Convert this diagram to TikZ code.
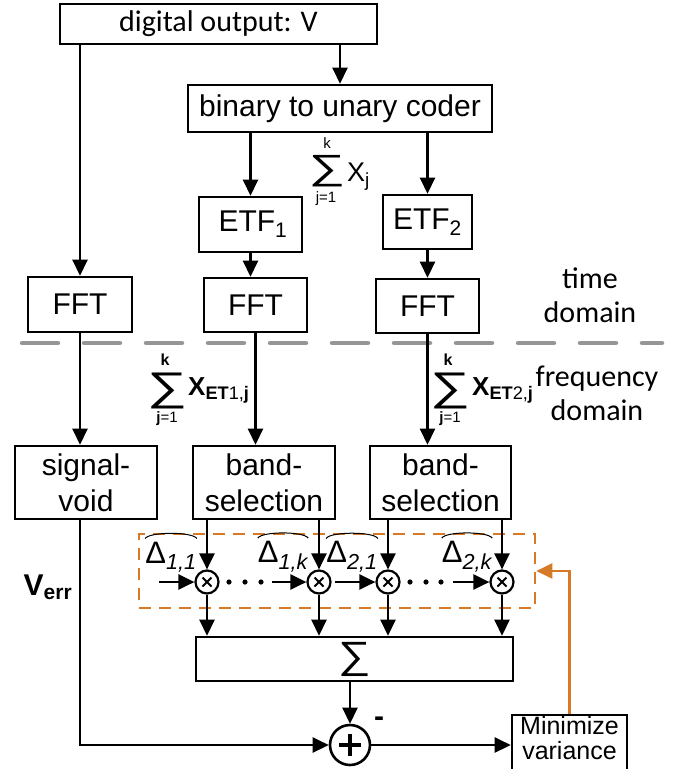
\documentclass[tikz,border=0pt]{standalone}
\usepackage{fontspec}
\usepackage{graphicx}
\setmainfont{Liberation Sans}
\newfontfamily\calfont{Carlito}
\usetikzlibrary{positioning,arrows.meta}
\definecolor{fborange}{RGB}{214, 122, 40}
\definecolor{splitgray}{RGB}{150, 150, 150}
\newcommand{\widesum}[1]{\scalebox{#1}[1]{∑}}

\begin{document}
\begin{tikzpicture}[x=1pt, y=-1pt,
        blk/.style={draw, line width=2.6pt, align=center, inner sep=0pt,
                    font=\fontsize{30}{36}\selectfont},
        arr/.style={-{Triangle[length=16pt,width=15pt]}, line width=2.5pt},
        mult/.style={draw, circle, line width=2.2pt, minimum size=23pt, inner sep=0pt,
                    path picture={\draw[line width=2pt]
                        ([shift={(-4.5pt,-4.5pt)}]path picture bounding box.center) --
                        ([shift={(4.5pt,4.5pt)}]path picture bounding box.center)
                        ([shift={(-4.5pt,4.5pt)}]path picture bounding box.center) --
                        ([shift={(4.5pt,-4.5pt)}]path picture bounding box.center);}},
        coef/.style={inner sep=1pt, font=\fontsize{31}{31}\selectfont},
        sumsym/.style={inner sep=0pt},
        lim/.style={inner sep=0pt, font=\fontsize{15}{15}\selectfont},
        term/.style={anchor=base west, inner sep=0pt},
        note/.style={align=center, font=\calfont\fontsize{30}{34}\selectfont},
        fback/.style={-{Triangle[length=16pt,width=15pt]}, line width=2.2pt, fborange}
    ]
    \useasboundingbox (0,0) rectangle (685,769);

    % Time domain blocks
    \node[blk, minimum width=317pt, minimum height=40pt,
          font=\calfont\fontsize{30}{36}\selectfont] (dout) at (218.5,24) {digital output: V};
    \node[blk, minimum width=304pt, minimum height=47pt] (coder) at (340,108.5) {binary to unary coder};
    \node[blk, minimum width=103pt, minimum height=55pt] (etf1) at (250.5,224.5) {\,ETF\textsubscript{1}};
    \node[blk, minimum width=89pt, minimum height=54pt]  (etf2) at (427.5,222) {ETF\textsubscript{2}};
    \node[blk, minimum width=104pt, minimum height=55pt] (fft0) at (80,304.5) {FFT};
    \node[blk, minimum width=103pt, minimum height=54pt] (fft1) at (255.5,305) {FFT};
    \node[blk, minimum width=103pt, minimum height=54pt] (fft2) at (427.5,306) {FFT};

    % Domain split
    \draw[splitgray, line width=4.5pt, line cap=round, dash pattern=on 36pt off 26pt] (22,343) -- (662,343);
    \node[note] (tdom) at (590,295) {time\\domain};
    \node[note] (fdom) at (597,393) {frequency\\domain};

    % Sum labels
    \node[sumsym, font=\fontsize{35}{35}\selectfont] (sx) at (327,171) {\widesum{1.45}};
    \node[lim] (sxk) at (327,143) {k};
    \node[lim] (sxj) at (326,199) {j=1};
    \node[term, font=\fontsize{27}{27}\selectfont] (xj) at (347,181) {X\textsubscript{j}};

    \node[sumsym, font=\fontsize{40}{40}\selectfont] (s1) at (167,391) {\widesum{1.4}};
    \node[lim, font=\bfseries\fontsize{16}{16}\selectfont] (s1k) at (165,360) {k};
    \node[lim] (s1j) at (167,419) {\textbf{j}=1};
    \node[term, font=\bfseries\fontsize{26}{26}\selectfont] (x1) at (188,395) {X\textsubscript{ET{\mdseries 1,}j}};

    \node[sumsym, font=\fontsize{40}{40}\selectfont] (s2) at (450,391) {\widesum{1.4}};
    \node[lim, font=\bfseries\fontsize{16}{16}\selectfont] (s2k) at (448,360) {k};
    \node[lim] (s2j) at (450,419) {\textbf{j}=1};
    \node[term, font=\bfseries\fontsize{26}{26}\selectfont] (x2) at (472,395) {X\textsubscript{ET{\mdseries 2,}j}};

    % Frequency domain blocks
    \node[blk, minimum width=142pt, minimum height=73pt] (sv)  at (86,482.5)  {signal-\\void};
    \node[blk, minimum width=142pt, minimum height=73pt] (bs1) at (264,482.5) {band-\\selection};
    \node[blk, minimum width=141pt, minimum height=73pt] (bs2) at (440.5,482.5) {band-\\selection};

    % Weighting row
    \node[draw=fborange, line width=2.6pt, dash pattern=on 12pt off 8pt,
          minimum width=396pt, minimum height=74pt] (wbox) at (337,571) {};
    \node[mult] (m11) at (207,582) {};
    \node[mult] (m1k) at (319,582) {};
    \node[mult] (m21) at (388,582) {};
    \node[mult] (m2k) at (502,582) {};
    \node[coef] (d11) at (171,557) {Δ\textsubscript{\itshape 1,1}};
    \node[coef] (d1k) at (283,557) {Δ\textsubscript{\itshape 1,k}};
    \node[coef] (d21) at (352,557) {Δ\textsubscript{\itshape 2,1}};
    \node[coef] (d2k) at (467,557) {Δ\textsubscript{\itshape 2,k}};
    \coordinate (in11) at (159,582);
    \coordinate (in1k) at (272,582);
    \coordinate (in21) at (335,582);
    \coordinate (in2k) at (453,582);

    \node[blk, minimum width=317pt, minimum height=44pt, font=\fontsize{38}{38}\selectfont] (sig) at (354.5,659) {\widesum{1.2}};
    \node[draw, circle, line width=2.6pt, minimum size=40pt, inner sep=0pt,
          path picture={\draw[line width=3.6pt]
              ([xshift=-11pt]path picture bounding box.center) -- ([xshift=11pt]path picture bounding box.center)
              ([yshift=-11pt]path picture bounding box.center) -- ([yshift=11pt]path picture bounding box.center);}]
          (plus) at (350,745) {};
    \node[font=\bfseries\fontsize{30}{30}\selectfont, inner sep=0pt] (minus) at (379,722) {-};
    \node[font=\bfseries\fontsize{30}{30}\selectfont] (verr) at (48,587) {V\textsubscript{err}};
    \node[blk, minimum width=115pt, minimum height=58pt, text depth=13pt,
          font=\fontsize{25}{25}\selectfont] (minv) at (569.5,744) {Minimize\\variance};

    % Connections
    \draw[arr] (dout.south -| coder) -- (coder);
    \draw[arr] (dout.south -| fft0) -- (fft0);
    \draw[arr] (coder.south -| etf1) -- (etf1);
    \draw[arr] (coder.south -| etf2) -- (etf2);
    \draw[arr] (etf1) -- (etf1 |- fft1.north);
    \draw[arr] (etf2) -- (etf2 |- fft2.north);
    \draw[arr] (fft0) -- (fft0 |- sv.north);
    \draw[arr] (fft1) -- (fft1 |- bs1.north);
    \draw[arr] (fft2) -- (fft2 |- bs2.north);

    \foreach \m/\b in {m11/bs1, m1k/bs1, m21/bs2, m2k/bs2}
        \draw[arr] (\m |- \b.south) -- (\m);
    \foreach \m in {m11, m1k, m21, m2k}
        \draw[arr] (\m) -- (\m |- sig.north);
    \draw[arr] (in11) -- (m11);
    \draw[arr] (in1k) -- (m1k);
    \draw[arr] (in21) -- (m21);
    \draw[arr] (in2k) -- (m2k);
    \foreach \x in {229, 245, 261, 410, 426, 441}
        \fill (\x,582) circle (2.6pt);
    \foreach \d in {d11, d1k, d21, d2k}
        \draw[line width=1pt] ([xshift=1pt,yshift=2pt]\d.north west)
            .. controls ([xshift=5pt,yshift=9pt]\d.north west) and ([xshift=-5pt,yshift=9pt]\d.north east)
            .. ([xshift=-1pt,yshift=2pt]\d.north east);

    \draw[arr] (sig.south -| plus) -- (plus);
    \draw[arr] (sv.south -| fft0) |- (plus);
    \draw[arr] (plus) -- (plus -| minv.west);
    \draw[fback] (minv.north) |- (wbox.east);

\end{tikzpicture}
\end{document}
